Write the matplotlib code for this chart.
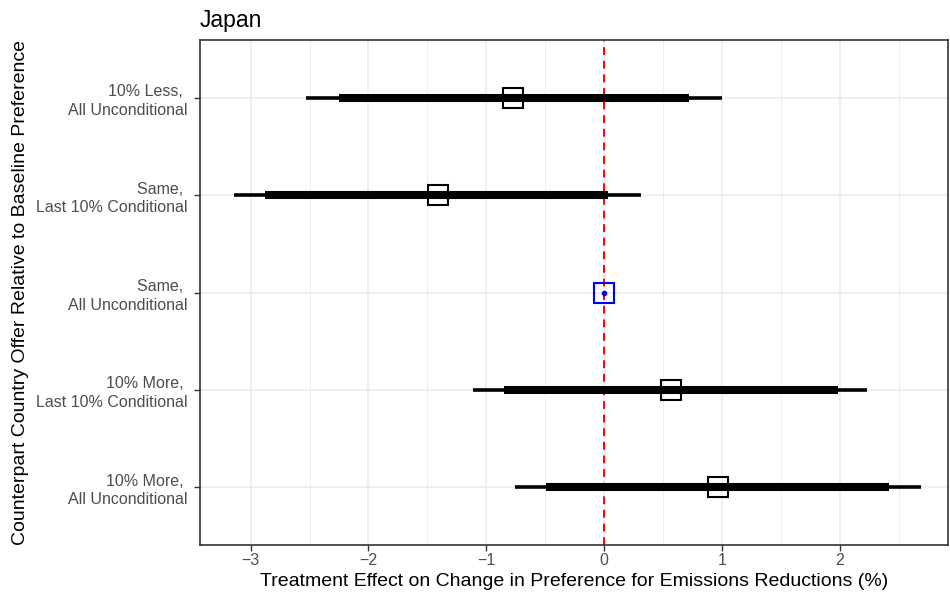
import matplotlib
matplotlib.use("Agg")
import matplotlib.pyplot as plt
import numpy as np

categories = ["10% Less, \nAll Unconditional",
              "Same, \nLast 10% Conditional",
              "Same, \nAll Unconditional",
              "10% More, \nLast 10% Conditional",
              "10% More, \nAll Unconditional"]
estimate = [-0.77, -1.41, 0.0, 0.57, 0.97]
ci95_low = [-2.53, -3.14, np.nan, -1.11, -0.76]
ci95_high = [1.00, 0.31, np.nan, 2.23, 2.69]
ci90_low = [-2.25, -2.88, np.nan, -0.85, -0.49]
ci90_high = [0.72, 0.03, np.nan, 1.99, 2.42]
is_baseline = [False, False, True, False, False]
xticks = [-3, -2, -1, 0, 1, 2]

plt.rcParams['font.family'] = ['Liberation Sans', 'DejaVu Sans']

fig = plt.figure(figsize=(9.5, 5.97), dpi=100)
ax = fig.add_axes([200/950, 1-545/597, 748/950, 505/597])

ypos = np.arange(len(categories))

# grid
for xv in np.arange(-3.5, 3.01, 0.5):
    ax.axvline(xv, color='#EBEBEB', lw=1.1 if xv % 1 == 0 else 0.6, zorder=0)
for yv in ypos:
    ax.axhline(yv, color='#EBEBEB', lw=1.1, zorder=0)

ax.axvline(0, color='red', lw=1.4, ls=(0, (4, 3)), zorder=1)

for i, y in enumerate(ypos):
    if is_baseline[i]:
        ax.plot(estimate[i], y, marker='s', ms=14.5, mfc='none', mec='blue', mew=1.5, zorder=4)
        ax.plot(estimate[i], y, marker='o', ms=3, color='blue', zorder=5)
    else:
        ax.plot([ci95_low[i], ci95_high[i]], [y, y], color='black', lw=2.6,
                solid_capstyle='butt', zorder=2)
        ax.plot([ci90_low[i], ci90_high[i]], [y, y], color='black', lw=5.8,
                solid_capstyle='butt', zorder=3)
        ax.plot(estimate[i], y, marker='s', ms=15, mfc='none', mec='black', mew=1.5, zorder=4)

ax.set_xlim(-3.43, 2.92)
ax.set_ylim(len(categories) - 1 + 0.596, -0.596)
ax.set_xticks(xticks)
ax.set_xticklabels([str(t).replace('-', '\u2212') for t in xticks])
ax.set_yticks(ypos)
ax.set_yticklabels(categories, ha='right', linespacing=1.3)
ax.tick_params(axis='both', colors='#333333', labelcolor='#4D4D4D', labelsize=11.5,
               length=4, width=1)
ax.tick_params(axis='y', pad=5)
ax.tick_params(axis='x', pad=2)

for s in ax.spines.values():
    s.set_color('#333333')
    s.set_linewidth(1.2)

ax.set_xlabel("Treatment Effect on Change in Preference for Emissions Reductions (%)",
              fontsize=14, color='black', labelpad=3)
ax.set_ylabel("Counterpart Country Offer Relative to Baseline Preference",
              fontsize=14, color='black')
ax.yaxis.set_label_coords(-0.228, 0.5)
ax.set_title("Japan", loc='left', fontsize=16.5, pad=9)

fig.savefig("out.png", dpi=100)
